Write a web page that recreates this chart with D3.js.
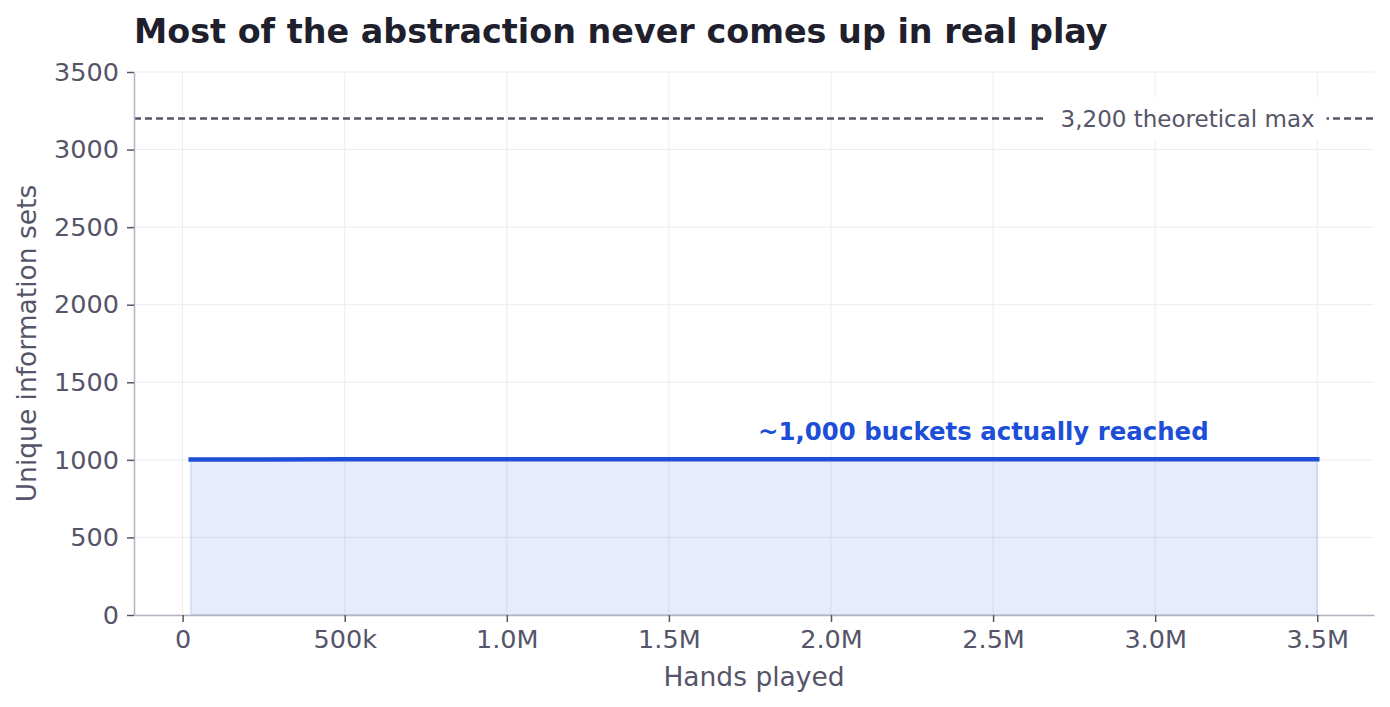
<!DOCTYPE html>
<meta charset="utf-8">
<head>
<style>
  body { margin: 0; background: #fff; }
  svg text { font-family: "DejaVu Sans", sans-serif; }
</style>
</head>
<body>
<div id="chart"></div>
<script src="https://d3js.org/d3.v7.min.js"></script>
<script>
// values
const hands = [25000, 100000, 250000, 500000, 1000000, 1500000, 2000000, 2500000, 3000000, 3500000];
const infoSets = [1002, 1003, 1003, 1004, 1004, 1004, 1004, 1004, 1004, 1004];
const xTicks = [0, 500000, 1000000, 1500000, 2000000, 2500000, 3000000, 3500000];
const xTickLabels = ["0", "500k", "1.0M", "1.5M", "2.0M", "2.5M", "3.0M", "3.5M"];
const yTicks = [0, 500, 1000, 1500, 2000, 2500, 3000, 3500];
const theoreticalMax = 3200;

const width = 1390, height = 707;
const margin = {left: 134, right: 16, top: 72, bottom: 92};
const blue = "#1d4ed8", ink = "#555569";

const svg = d3.select("#chart").append("svg")
    .attr("width", width).attr("height", height);

const x = d3.scaleLinear()
    .domain([-150000, 3675000])
    .range([margin.left, width - margin.right]);
const y = d3.scaleLinear()
    .domain([0, 3500])
    .range([height - margin.bottom, margin.top]);

// grid
svg.append("g").selectAll("line").data(xTicks).join("line")
    .attr("x1", d => x(d)).attr("x2", d => x(d))
    .attr("y1", y(0)).attr("y2", y(3500))
    .attr("stroke", "#ececf1").attr("stroke-width", 1);
svg.append("g").selectAll("line").data(yTicks).join("line")
    .attr("x1", margin.left).attr("x2", width - margin.right)
    .attr("y1", d => y(d)).attr("y2", d => y(d))
    .attr("stroke", "#ececf1").attr("stroke-width", 1);

const pts = hands.map((h, i) => ({h: h, v: infoSets[i]}));

// area under the line
svg.append("path")
    .datum(pts)
    .attr("d", d3.area().x(d => x(d.h)).y0(y(0)).y1(d => y(d.v)))
    .attr("fill", blue).attr("fill-opacity", 0.11)
    .attr("stroke", blue).attr("stroke-opacity", 0.12).attr("stroke-width", 2);

// theoretical max
svg.append("line")
    .attr("x1", margin.left).attr("x2", width - margin.right)
    .attr("y1", y(theoreticalMax)).attr("y2", y(theoreticalMax))
    .attr("stroke", ink).attr("stroke-width", 2.4)
    .attr("stroke-dasharray", "7,4");

const maxLabel = svg.append("g");
const lblX = x(3100000), lblY = y(theoreticalMax);
maxLabel.append("rect")
    .attr("x", lblX - 144).attr("y", lblY - 21)
    .attr("width", 283).attr("height", 42)
    .attr("fill", "#fff");
maxLabel.append("text")
    .attr("x", lblX).attr("y", lblY + 8)
    .attr("text-anchor", "middle")
    .attr("font-size", 23).attr("fill", ink)
    .text("3,200 theoretical max");

// the line
svg.append("path")
    .datum(pts)
    .attr("d", d3.line().x(d => x(d.h)).y(d => y(d.v)))
    .attr("fill", "none").attr("stroke", blue).attr("stroke-width", 4.5)
    .attr("stroke-linecap", "square");

svg.append("text")
    .attr("x", x(2470000)).attr("y", y(1130))
    .attr("text-anchor", "middle")
    .attr("font-size", 24.4).attr("font-weight", "bold").attr("fill", blue)
    .text("~1,000 buckets actually reached");

// axes
const xAxis = svg.append("g")
    .attr("transform", `translate(0,${y(0)})`)
    .call(d3.axisBottom(x).tickValues(xTicks).tickFormat((d, i) => xTickLabels[i]).tickSize(7).tickPadding(8).tickSizeOuter(0));
const yAxis = svg.append("g")
    .attr("transform", `translate(${margin.left},0)`)
    .call(d3.axisLeft(y).tickValues(yTicks).tickFormat(d3.format("d")).tickSize(7).tickPadding(8).tickSizeOuter(0));

[xAxis, yAxis].forEach(a => {
    a.select(".domain").attr("stroke", "#b4b4c0").attr("stroke-width", 1.5);
    a.selectAll(".tick line").attr("stroke", ink).attr("stroke-width", 1.5);
    a.selectAll(".tick text").attr("fill", ink).attr("font-size", 25.5)
        .attr("font-family", "DejaVu Sans, sans-serif");
});

svg.append("text")
    .attr("x", 754).attr("y", 686)
    .attr("text-anchor", "middle").attr("font-size", 26.5).attr("fill", ink)
    .text("Hands played");
svg.append("text")
    .attr("transform", `translate(36,${(y(0) + y(3500)) / 2}) rotate(-90)`)
    .attr("text-anchor", "middle").attr("font-size", 26.5).attr("fill", ink)
    .text("Unique information sets");

svg.append("text")
    .attr("x", margin.left).attr("y", 43)
    .attr("font-size", 33.4).attr("font-weight", "bold").attr("fill", "#1f1f2e")
    .text("Most of the abstraction never comes up in real play");
</script>
</body>
